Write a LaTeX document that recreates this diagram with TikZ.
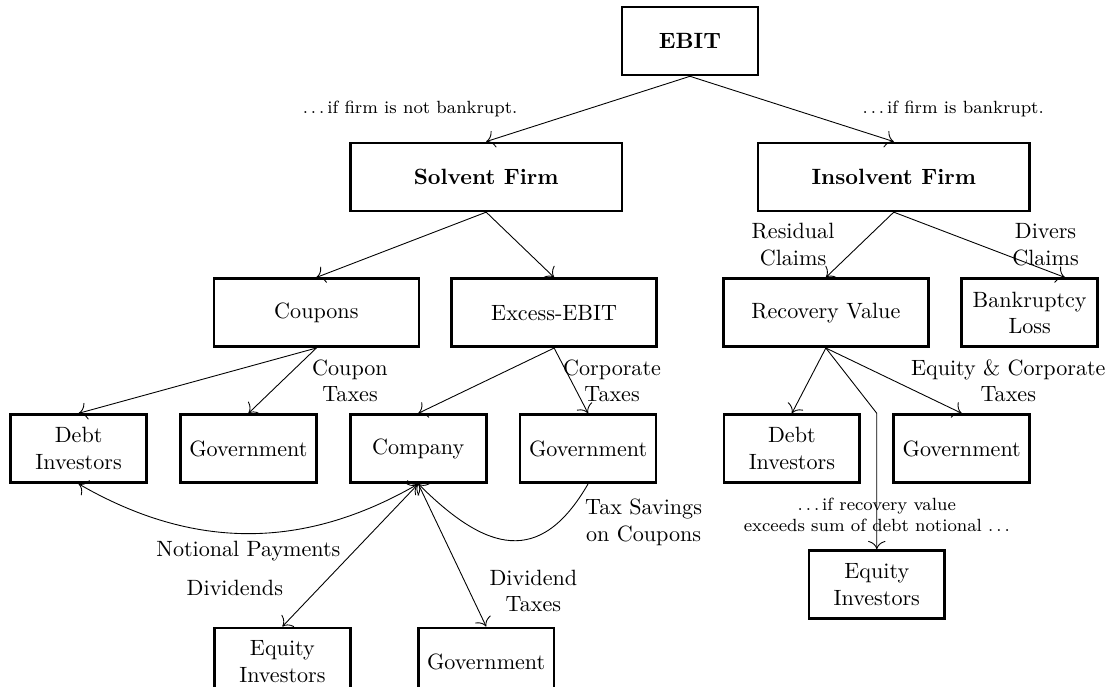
\documentclass[tikz,border=0pt]{standalone}
\usetikzlibrary{positioning, arrows.meta}

\begin{document}
\begin{tikzpicture}[->, >={To[scale=1.5]}, node distance=2.16cm,
        box/.style={draw, very thick, minimum width=2.16cm, minimum height=1.08cm, align=center},
        midbox/.style={box, minimum width=3.26cm},
        widebox/.style={box, minimum width=4.32cm, font=\bfseries},
        note/.style={font=\footnotesize}]
        \useasboundingbox (-10.97,0.652) rectangle (6.757,-10.27);

        \node[box, font=\bfseries] (EBIT) {EBIT};
        \node[widebox] (Solvent) [below of=EBIT, xshift=-3.24cm] {Solvent Firm};
        \node[widebox] (Insolvent) [below of=EBIT, xshift=3.24cm] {Insolvent Firm};

        \node[midbox] (Coupons) [below of=Solvent, xshift=-2.7cm] {Coupons};
        \node[midbox] (Excess) [below of=Solvent, xshift=1.08cm] {Excess-EBIT};
        \node[midbox] (Recovery) [below of=Insolvent, xshift=-1.08cm] {Recovery Value};
        \node[box] (Bankrupt) [below of=Insolvent, xshift=2.16cm] {Bankruptcy\\Loss};

        \node[box] (Company) [below of=Coupons, xshift=1.62cm] {Company};
        \node[box] (GovC) [node distance=2.7cm, left of=Company] {Government};
        \node[box] (DebtL) [node distance=2.7cm, left of=GovC] {Debt\\Investors};
        \node[box] (GovE) [node distance=2.7cm, right of=Company] {Government};
        \node[box] (DebtR) [below of=Recovery, xshift=-0.54cm] {Debt\\Investors};
        \node[box] (GovR) [node distance=2.7cm, right of=DebtR] {Government};
        \node[box] (EquityR) [below of=DebtR, xshift=1.35cm] {Equity\\Investors};

        \node[box] (EquityL) [node distance=3.39cm, below of=Company, xshift=-2.16cm] {Equity\\Investors};
        \node[box] (GovD) [node distance=3.24cm, right of=EquityL] {Government};

        \draw (EBIT.south) -- (Solvent.north) node[midway, left=1cm, note] {.\,.\,.\,if firm is not bankrupt.};
        \draw (EBIT.south) -- (Insolvent.north) node[midway, right=1cm, note] {.\,.\,.\,if firm is bankrupt.};

        \draw (Solvent.south) -- (Coupons.north);
        \draw (Solvent.south) -- (Excess.north);
        \draw (Insolvent.south) -- (Recovery.north) node[midway, left=0.28cm, align=center] {Residual\\Claims};
        \draw (Insolvent.south) -- (Bankrupt.45) node[midway, right=0.4cm, align=center] {Divers\\Claims};

        \draw (Coupons.south) -- (DebtL.north);
        \draw (Coupons.south) -- (GovC.north) node[midway, right=0.35cm, align=center] {Coupon\\Taxes};
        \draw (Excess.south) -- (Company.north);
        \draw (Excess.south) -- (GovE.north) node[midway, right=-0.25cm, align=center] {Corporate\\Taxes};
        \draw (Recovery.south) -- (DebtR.north);
        \draw (Recovery.south) -- (GovR.north) node[midway, right=0.15cm, align=center] {Equity \& Corporate\\Taxes};
        \coordinate (kink) at (EquityR.north |- DebtR.north);
        \draw (Recovery.south) -- (kink) -- (EquityR.north) node[pos=0.75, note, align=center] {.\,.\,.\,if recovery value\\exceeds sum of debt notional .\,.\,.};

        \draw[<->] (DebtL.south) to[bend right=30] node[midway, below] {Notional Payments} (Company.south);
        \draw[<->] (Company.south) -- (EquityL.north) node[pos=0.73, left=0.45cm] {Dividends};
        \draw (Company.south) -- (GovD.north) node[pos=0.75, right=0.2cm, align=center] {Dividend\\Taxes};
        \draw (GovE.south) to[out=-120, in=-45, looseness=1.45] node[pos=0.2, right=0.3cm, align=center] {Tax Savings\\on Coupons} (Company.south);

        \end{tikzpicture}
\end{document}
